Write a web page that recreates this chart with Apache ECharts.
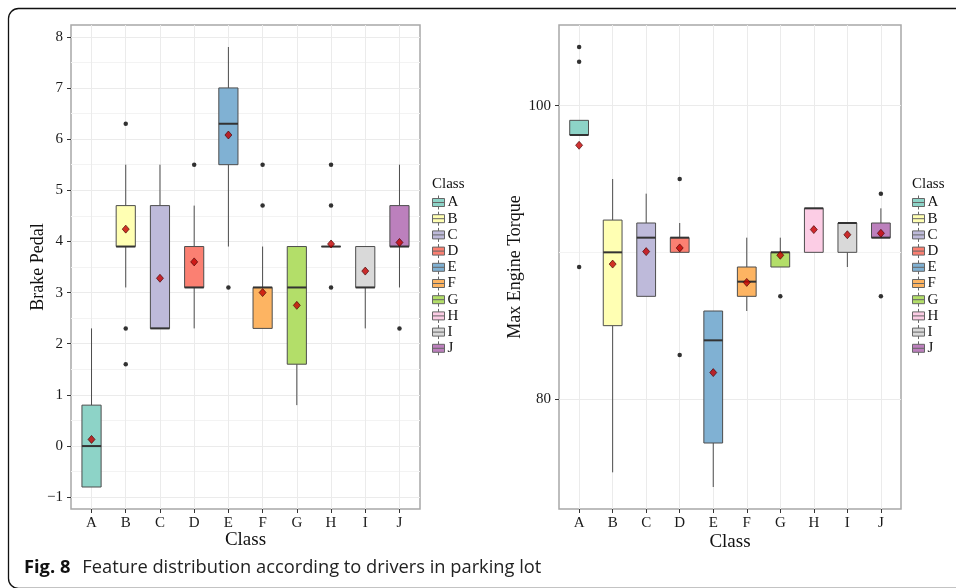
<!DOCTYPE html>
<html>
<head>
<meta charset="utf-8">
<script src="https://cdn.jsdelivr.net/npm/echarts@6/dist/echarts.min.js"></script>
<style>
  html, body { margin: 0; padding: 0; background: #fff; }
  #chart { width: 956px; height: 588px; }
</style>
</head>
<body>
<div id="chart"></div>
<script>
// classes and their fill colours (Set3)
const classes = ['A', 'B', 'C', 'D', 'E', 'F', 'G', 'H', 'I', 'J'];
const classColors = ['#8DD3C7', '#FFFFB3', '#BEBADA', '#FB8072', '#80B1D3',
                     '#FDB462', '#B3DE69', '#FCCDE5', '#D9D9D9', '#BC80BD'];

// Brake Pedal: [lower whisker, Q1, median, Q3, upper whisker] per class
const brakeStats = [
    [-0.8, -0.8, 0.0, 0.8, 2.3],
    [3.1, 3.9, 3.9, 4.7, 5.5],
    [2.3, 2.3, 2.3, 4.7, 5.5],
    [2.3, 3.1, 3.1, 3.9, 4.7],
    [3.9, 5.5, 6.3, 7.0, 7.8],
    [2.3, 2.3, 3.1, 3.1, 3.9],
    [0.8, 1.6, 3.1, 3.9, 3.9],
    [3.9, 3.9, 3.9, 3.9, 3.9],
    [2.3, 3.1, 3.1, 3.9, 3.9],
    [3.1, 3.9, 3.9, 4.7, 5.5]
];
const brakeMeans = [0.13, 4.24, 3.28, 3.6, 6.08, 3.0, 2.75, 3.95, 3.42, 3.98];
const brakeOutliers = [
    ['B', 6.3], ['B', 2.3], ['B', 1.6], ['D', 5.5], ['E', 3.1],
    ['F', 5.5], ['F', 4.7], ['H', 5.5], ['H', 4.7], ['H', 3.1], ['J', 2.3]
];
const brakeTicks = [-1, 0, 1, 2, 3, 4, 5, 6, 7, 8];
const brakeMinor = [-0.5, 0.5, 1.5, 2.5, 3.5, 4.5, 5.5, 6.5, 7.5];

// Max Engine Torque
const torqueStats = [
    [98, 98, 98, 99, 99],
    [75, 85, 90, 92.2, 95],
    [87, 87, 91, 92, 94],
    [90, 90, 91, 91, 92],
    [74, 77, 84, 86, 86],
    [86, 87, 88, 89, 91],
    [89, 89, 90, 90, 91],
    [90, 90, 93, 93, 93],
    [89, 90, 92, 92, 92],
    [91, 91, 91, 92, 93]
];
const torqueMeans = [97.3, 89.2, 90.05, 90.3, 81.8, 87.95, 89.8, 91.55, 91.2, 91.3];
const torqueOutliers = [
    ['A', 104], ['A', 103], ['A', 89], ['D', 95], ['D', 83],
    ['G', 87], ['J', 94], ['J', 87]
];
const torqueTicks = [80, 100];
const torqueMinor = [90];

const SERIF = '"Liberation Serif", "DejaVu Serif", serif';
const SANS = '"Open Sans", "Noto Sans", sans-serif';
const BOX_WIDTH = 0.56;
const classPos = classes.map((c, i) => i + 1);

function renderBox(params, api) {
    const x = api.value(0);
    const lo = api.coord([x, api.value(1)]);
    const q1 = api.coord([x, api.value(2)]);
    const md = api.coord([x, api.value(3)]);
    const q3 = api.coord([x, api.value(4)]);
    const hi = api.coord([x, api.value(5)]);
    const half = api.size([BOX_WIDTH, 0])[0] / 2;
    const lineStyle = {stroke: '#4d4d4d', lineWidth: 1};
    return {
        type: 'group',
        children: [
            {type: 'line', shape: {x1: lo[0], y1: lo[1], x2: q1[0], y2: q1[1]}, style: lineStyle},
            {type: 'line', shape: {x1: q3[0], y1: q3[1], x2: hi[0], y2: hi[1]}, style: lineStyle},
            {
                type: 'rect',
                shape: {x: q3[0] - half, y: q3[1], width: half * 2, height: q1[1] - q3[1]},
                style: {fill: api.visual('color'), stroke: '#4d4d4d', lineWidth: 1}
            },
            {
                type: 'line',
                shape: {x1: md[0] - half, y1: md[1], x2: md[0] + half, y2: md[1]},
                style: {stroke: '#333', lineWidth: 2}
            }
        ]
    };
}

function boxSeries(stats, gi) {
    return classes.map((c, i) => ({
        name: c,
        type: 'custom',
        xAxisIndex: gi,
        yAxisIndex: gi * 2,
        itemStyle: {color: classColors[i], borderColor: '#4d4d4d', borderWidth: 1},
        encode: {x: 0, y: [1, 2, 3, 4, 5]},
        data: [[classPos[i]].concat(stats[i])],
        renderItem: renderBox,
        z: 2
    }));
}

function pointSeries(means, outliers, gi) {
    return [{
        name: 'outliers',
        type: 'scatter',
        xAxisIndex: gi,
        yAxisIndex: gi * 2,
        symbol: 'circle',
        symbolSize: 4.5,
        itemStyle: {color: '#000'},
        data: outliers.map(o => [classes.indexOf(o[0]) + 1, o[1]]),
        z: 3
    }, {
        name: 'mean',
        type: 'scatter',
        xAxisIndex: gi,
        yAxisIndex: gi * 2,
        symbol: 'diamond',
        symbolSize: [7, 8],
        itemStyle: {color: '#c40000', borderColor: '#400000', borderWidth: 0.8},
        data: means.map((v, i) => [classPos[i], v]),
        z: 4
    }];
}

function xAxisFor(gi, gap) {
    return {
        type: 'value',
        gridIndex: gi,
        min: 0.4,
        max: 10.6,
        name: 'Class',
        nameLocation: 'middle',
        nameGap: gap,
        nameMoveOverlap: false,
        nameTextStyle: {fontFamily: SERIF, fontSize: 19, color: '#111'},
        axisLine: {show: false, onZero: false},
        axisTick: {show: true, length: 4, customValues: classPos, lineStyle: {color: '#333'}},
        axisLabel: {
            customValues: classPos, margin: 7,
            fontFamily: SERIF, fontSize: 15, color: '#1a1a1a',
            formatter: v => classes[Math.round(v) - 1]
        },
        splitLine: {show: true, lineStyle: {color: '#ebebeb', width: 1}}
    };
}

function yAxisFor(gi, min, max, ticks, name, gap) {
    return {
        type: 'value',
        gridIndex: gi,
        min: min,
        max: max,
        name: name,
        nameLocation: 'middle',
        nameGap: gap,
        nameMoveOverlap: false,
        nameTextStyle: {fontFamily: SERIF, fontSize: 18, color: '#111'},
        axisLine: {show: false, onZero: false},
        axisTick: {show: true, length: 4, customValues: ticks, lineStyle: {color: '#333'}},
        axisLabel: {
            customValues: ticks, margin: 8,
            fontFamily: SERIF, fontSize: 15, color: '#1a1a1a',
            formatter: v => (v < 0 ? '\u2212' + Math.abs(v) : String(v))
        },
        splitLine: {show: true, lineStyle: {color: '#ebebeb', width: 1}}
    };
}

function minorAxisFor(gi, min, max, ticks) {
    return {
        type: 'value',
        gridIndex: gi,
        position: 'right',
        min: min,
        max: max,
        axisLine: {show: false},
        axisTick: {show: false, customValues: ticks},
        axisLabel: {show: false},
        splitLine: {show: true, lineStyle: {color: '#f3f3f3', width: 1}}
    };
}

function legendFor(left) {
    return {
        orient: 'vertical',
        left: left,
        top: 195,
        padding: 0,
        itemWidth: 14,
        itemHeight: 14,
        itemGap: 1.2,
        selectedMode: false,
        data: classes,
        icon: 'path://M7,0V3M1,3H13V11H1ZM1,7H13M7,11V14',
        itemStyle: {borderColor: '#666', borderWidth: 1},
        textStyle: {fontFamily: SERIF, fontSize: 15, color: '#111', lineHeight: 14, padding: [0, 0, 0, -3]}
    };
}

const chart = echarts.init(document.getElementById('chart'));

const option = {
    animation: false,
    backgroundColor: '#fff',
    title: [
        {text: 'Class', left: 432, top: 177, padding: 0,
         textStyle: {fontFamily: SERIF, fontSize: 15, fontWeight: 'normal', color: '#111'}},
        {text: 'Class', left: 912, top: 177, padding: 0,
         textStyle: {fontFamily: SERIF, fontSize: 15, fontWeight: 'normal', color: '#111'}},
        {
            text: '{b|Fig. 8}{s|}Feature distribution according to drivers in parking lot',
            left: 24, top: 559, padding: 0,
            textStyle: {
                fontFamily: SANS, fontSize: 18.3,
                fontWeight: 'normal', color: '#222',
                rich: {
                    b: {fontFamily: SANS, fontSize: 18.3, fontWeight: 'bold', color: '#111'},
                    s: {width: 12}
                }
            }
        }
    ],
    legend: [legendFor(432), legendFor(912)],
    grid: [
        {left: 71, right: 536, top: 25, bottom: 79, show: true, borderColor: '#a8a8a8', borderWidth: 1.5, backgroundColor: '#fff'},
        {left: 559, right: 55, top: 25, bottom: 79, show: true, borderColor: '#a8a8a8', borderWidth: 1.5, backgroundColor: '#fff'}
    ],
    xAxis: [xAxisFor(0, 22), xAxisFor(1, 24)],
    yAxis: [
        yAxisFor(0, -1.23, 8.23, brakeTicks, 'Brake Pedal', 24),
        minorAxisFor(0, -1.23, 8.23, brakeMinor),
        yAxisFor(1, 72.5, 105.5, torqueTicks, 'Max Engine Torque', 35),
        minorAxisFor(1, 72.5, 105.5, torqueMinor)
    ],
    graphic: [{
        type: 'rect',
        shape: {x: 8.5, y: 8.5, width: 1000, height: 580, r: 10},
        style: {fill: 'none', stroke: '#111', lineWidth: 1.3},
        silent: true
    }],
    series: [].concat(
        boxSeries(brakeStats, 0),
        pointSeries(brakeMeans, brakeOutliers, 0),
        boxSeries(torqueStats, 1),
        pointSeries(torqueMeans, torqueOutliers, 1)
    )
};

chart.setOption(option);
</script>
</body>
</html>
